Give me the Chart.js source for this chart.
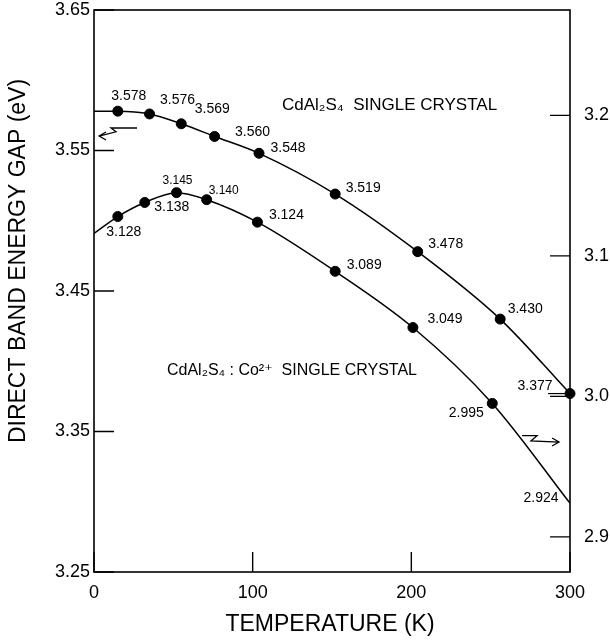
<!DOCTYPE html>
<html>
<head>
<meta charset="utf-8">
<script src="https://cdn.jsdelivr.net/npm/chart.js@4/dist/chart.umd.min.js"></script>
<style>
  html, body { margin: 0; padding: 0; background: #ffffff; }
  #wrap { width: 610px; height: 643px; position: relative; }
</style>
</head>
<body>
<div id="wrap"><canvas id="c" width="610" height="643"></canvas></div>
<script>
// ---------------- data ----------------
const temperatureTicks = [0, 100, 200, 300];
const leftGapTicks = [3.25, 3.35, 3.45, 3.55, 3.65];
const rightGapTicks = [2.9, 3.0, 3.1, 3.2];

// CdAl2S4 single crystal (left axis)
const pureT = [15, 35, 55, 76, 104, 152, 204, 256, 300];
const pureGap = [3.578, 3.576, 3.569, 3.560, 3.548, 3.519, 3.478, 3.430, 3.377];
const pureGapAt0K = 3.578;

// CdAl2S4:Co2+ single crystal (right axis)
const cobaltT = [15, 32, 52, 71, 103, 152, 201, 251];
const cobaltGap = [3.128, 3.138, 3.145, 3.140, 3.124, 3.089, 3.049, 2.995];
const cobaltGapAt0K = 3.116;
const cobaltGapAt300K = 2.924;

// ---------------- styling / annotation placement ----------------
const FONT = '"Liberation Sans", Arial, "DejaVu Sans", sans-serif';
const pureLabelOffsets = [[11,-15],[28,-14],[31,-15],[38,-4],[29,-5],[28,-6],[28,-8],[25,-10],[-35,-7]];
const pureLabelSizes = [14,14,14,14,14,14,14,14,14];
const cobaltLabelOffsets = [[6,16],[27,5],[1,-12],[17,-9],[29,-7],[29,-6],[32,-8],[-26,10]];
const cobaltLabelSizes = [14,14,12,12,14,14,14,14];
const cobaltEndLabelOffset = [-29,-5];

const pts = (xs, ys) => xs.map((x, i) => ({ x: x, y: ys[i] }));
const pureCurve = [{ x: 0, y: pureGapAt0K }].concat(pts(pureT, pureGap));
const cobaltCurve = [{ x: 0, y: cobaltGapAt0K }].concat(pts(cobaltT, cobaltGap), [{ x: 300, y: cobaltGapAt300K }]);

const annotate = {
  id: 'annotate',
  afterDatasetsDraw(chart) {
    const ctx = chart.ctx;
    const xs = chart.scales.x, yl = chart.scales.y, yr = chart.scales.y1;
    const a = chart.chartArea;
    ctx.save();
    ctx.strokeStyle = '#000';
    ctx.fillStyle = '#000';
    // frame
    ctx.lineWidth = 1.6;
    ctx.strokeRect(a.left, a.top, a.right - a.left, a.bottom - a.top);
    // inward ticks
    ctx.lineWidth = 1.4;
    ctx.beginPath();
    leftGapTicks.forEach(v => { const y = yl.getPixelForValue(v); ctx.moveTo(a.left, y); ctx.lineTo(a.left + 20, y); });
    rightGapTicks.forEach(v => { const y = yr.getPixelForValue(v); ctx.moveTo(a.right, y); ctx.lineTo(a.right - 20, y); });
    temperatureTicks.forEach(v => { const x = xs.getPixelForValue(v); ctx.moveTo(x, a.bottom); ctx.lineTo(x, a.bottom - 20); });
    ctx.stroke();

    // value labels
    ctx.textAlign = 'center';
    ctx.textBaseline = 'middle';
    pureT.forEach((t, i) => {
      ctx.font = pureLabelSizes[i] + 'px ' + FONT;
      ctx.fillText(pureGap[i].toFixed(3), xs.getPixelForValue(t) + pureLabelOffsets[i][0], yl.getPixelForValue(pureGap[i]) + pureLabelOffsets[i][1]);
    });
    cobaltT.forEach((t, i) => {
      ctx.font = cobaltLabelSizes[i] + 'px ' + FONT;
      ctx.fillText(cobaltGap[i].toFixed(3), xs.getPixelForValue(t) + cobaltLabelOffsets[i][0], yr.getPixelForValue(cobaltGap[i]) + cobaltLabelOffsets[i][1]);
    });
    ctx.font = '14px ' + FONT;
    ctx.fillText(cobaltGapAt300K.toFixed(3), xs.getPixelForValue(300) + cobaltEndLabelOffset[0], yr.getPixelForValue(cobaltGapAt300K) + cobaltEndLabelOffset[1]);

    // leader under 3.377
    const lastI = pureT.length - 1;
    const ly = yl.getPixelForValue(pureGap[lastI]);
    ctx.lineWidth = 1.2;
    ctx.beginPath();
    ctx.moveTo(xs.getPixelForValue(pureT[lastI]) - 22, ly);
    ctx.lineTo(xs.getPixelForValue(pureT[lastI]), ly);
    ctx.stroke();

    // sample names
    ctx.textAlign = 'left';
    ctx.font = '17px ' + FONT;
    ctx.fillText('CdAl\u2082S\u2084  SINGLE CRYSTAL', xs.getPixelForValue(118.5), yl.getPixelForValue(3.582));
    ctx.font = '16px ' + FONT;
    ctx.fillText('CdAl\u2082S\u2084 : Co\u00B2\u207A  SINGLE CRYSTAL', xs.getPixelForValue(46), yl.getPixelForValue(3.393));

    // axis-pointer arrows
    const arrow = (path, dir) => {
      const p = path.map(q => [xs.getPixelForValue(q[0]), yl.getPixelForValue(q[1])]);
      ctx.lineWidth = 1.3;
      ctx.beginPath();
      ctx.moveTo(p[0][0], p[0][1]);
      for (let i = 1; i < p.length; i++) ctx.lineTo(p[i][0], p[i][1]);
      const e = p[p.length - 1];
      ctx.moveTo(e[0] - dir * 7, e[1] - 4);
      ctx.lineTo(e[0], e[1]);
      ctx.lineTo(e[0] - dir * 7, e[1] + 4);
      ctx.stroke();
    };
    arrow([[27.1, 3.566], [10.7, 3.566], [13.9, 3.5633], [3.2, 3.5603]], -1);
    arrow([[269.8, 3.347], [279.2, 3.347], [275.4, 3.3433], [293.1, 3.3425]], 1);

    // axis titles
    ctx.textAlign = 'center';
    ctx.font = '23px ' + FONT;
    ctx.fillText('TEMPERATURE (K)', 330, 625);
    ctx.save();
    ctx.translate(19, 261);
    ctx.rotate(-Math.PI / 2);
    ctx.fillText('DIRECT BAND ENERGY GAP (eV)', 0, 0);
    ctx.restore();
    ctx.restore();
  }
};

const tickFont = { family: FONT, size: 18 };
const noPad = s => { s.paddingTop = 0; s.paddingBottom = 0; s.paddingLeft = 0; s.paddingRight = 0; };

new Chart(document.getElementById('c'), {
  type: 'scatter',
  data: {
    datasets: [
      { type: 'line', data: pureCurve, yAxisID: 'y', borderColor: '#000', borderWidth: 1.5, pointRadius: 0, cubicInterpolationMode: 'monotone', fill: false },
      { data: pts(pureT, pureGap), yAxisID: 'y', backgroundColor: '#000', borderColor: '#000', pointRadius: 5, showLine: false, clip: false },
      { type: 'line', data: cobaltCurve, yAxisID: 'y1', borderColor: '#000', borderWidth: 1.5, pointRadius: 0, cubicInterpolationMode: 'monotone', fill: false },
      { data: pts(cobaltT, cobaltGap), yAxisID: 'y1', backgroundColor: '#000', borderColor: '#000', pointRadius: 5, showLine: false, clip: false }
    ]
  },
  options: {
    responsive: false,
    animation: false,
    layout: { padding: { top: 10, left: 0, right: 0, bottom: 0 } },
    plugins: { legend: { display: false }, tooltip: { enabled: false } },
    scales: {
      x: {
        type: 'linear', min: 0, max: 300,
        grid: { display: false, drawTicks: false },
        border: { display: false },
        afterBuildTicks: s => { s.ticks = temperatureTicks.map(v => ({ value: v })); },
        afterFit: s => { s.height = 71; noPad(s); },
        ticks: { color: '#000', font: tickFont, padding: 10, maxRotation: 0, callback: v => String(v) }
      },
      y: {
        type: 'linear', position: 'left', min: 3.25, max: 3.65,
        grid: { display: false, drawTicks: false },
        border: { display: false },
        afterBuildTicks: s => { s.ticks = leftGapTicks.map(v => ({ value: v })); },
        afterFit: s => { s.width = 94; noPad(s); },
        ticks: { color: '#000', font: tickFont, padding: 4, callback: v => Number(v).toFixed(2) }
      },
      y1: {
        type: 'linear', position: 'right', min: 2.875, max: 3.275,
        grid: { display: false, drawTicks: false },
        border: { display: false },
        afterBuildTicks: s => { s.ticks = rightGapTicks.map(v => ({ value: v })); },
        afterFit: s => { s.width = 40; noPad(s); },
        ticks: { color: '#000', font: tickFont, padding: 14, callback: v => Number(v).toFixed(1) }
      }
    }
  },
  plugins: [annotate]
});
</script>
</body>
</html>
